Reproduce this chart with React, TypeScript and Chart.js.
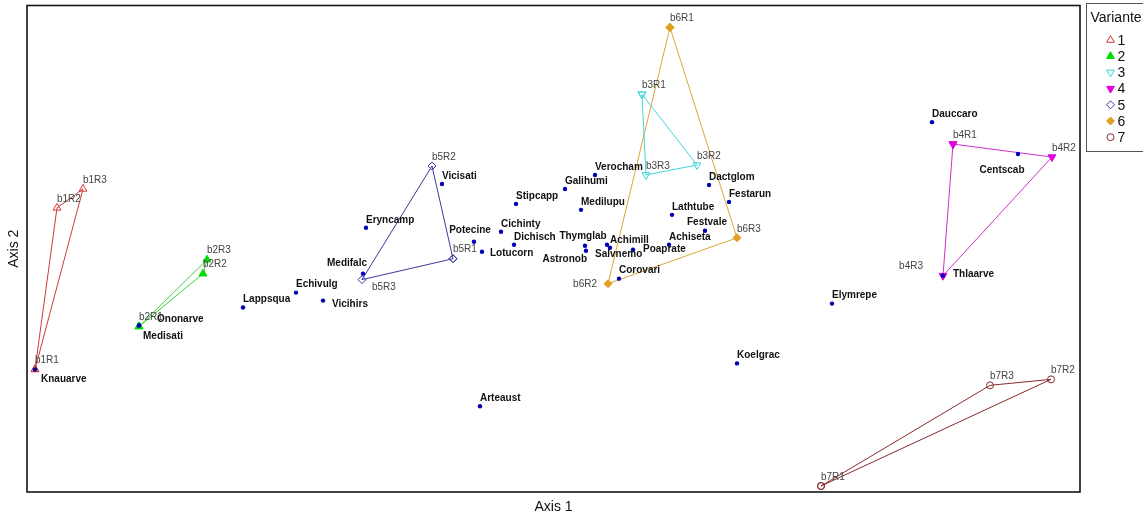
import React, { useEffect, useRef } from 'react';
import { Chart, registerables } from 'chart.js';
import { drawPoint } from 'chart.js/helpers';

Chart.register(...registerables);

// ---- Data (ordination scores, arbitrary units) ----
const speciesNames = [
  'Knauarve', 'Ononarve', 'Medisati', 'Lappsqua', 'Echivulg', 'Vicihirs', 'Medifalc',
  'Eryncamp', 'Vicisati', 'Potecine', 'Lotucorn', 'Cichinty', 'Dichisch', 'Stipcapp',
  'Galihumi', 'Verocham', 'Medilupu', 'Thymglab', 'Astronob', 'Achimill', 'Salvnemo',
  'Poaprate', 'Corovari', 'Achiseta', 'Lathtube', 'Festvale', 'Dactglom', 'Festarun',
  'Arteaust', 'Koelgrac', 'Elymrepe', 'Dauccaro', 'Centscab', 'Thlaarve',
];
const speciesX = [
  8, 112, 112, 216, 269, 296, 336,
  339, 415, 447, 455, 474, 487, 489,
  538, 568, 554, 558, 559, 580, 583,
  606, 592, 642, 645, 678, 682, 702,
  453, 710, 805, 905, 991, 916,
];
const speciesY = [
  123, 167, 167, 185, 200, 192, 219,
  265, 309, 251, 241, 261, 248, 289,
  304, 318, 283, 247, 242, 248, 245,
  243, 214, 248, 278, 262, 308, 291,
  86, 129, 189, 371, 339, 217,
];

const variants = ['1', '2', '3', '4', '5', '6', '7'];
const replicates = ['R1', 'R2', 'R3'];
const variantX = [
  [8, 30, 56],
  [112, 176, 180],
  [615, 670, 619],
  [926, 1025, 916],
  [426, 405, 335],
  [643, 581, 710],
  [794, 1024, 963],
];
const variantY = [
  [123, 285, 304],
  [166, 219, 233],
  [399, 328, 318],
  [349, 336, 217],
  [234, 327, 213],
  [466, 209, 255],
  [6, 113, 107],
];

const axisXTitle = 'Axis 1';
const axisYTitle = 'Axis 2';
const legendTitle = 'Variante';

// ---- Styles ----
const X_MIN = 0, X_MAX = 1053, Y_MIN = 0, Y_MAX = 488;
const FONT = '"Liberation Sans", Arial, Helvetica, sans-serif';
const markerColors = ['#d23a3a', '#00dc00', '#38d4d4', '#e000e0', '#3a3a9c', '#e0a020', '#8a2a2a'];
const lineColors = ['#cc3b3b', '#3cd03c', '#40d8d8', '#cc33cc', '#3a3a9c', '#dba838', '#8a2a2a'];
const markerStyles: any[] = [
  { pointStyle: 'triangle', rotation: 0, filled: false, radius: 4.5 },
  { pointStyle: 'triangle', rotation: 0, filled: true, radius: 4.5 },
  { pointStyle: 'triangle', rotation: 180, filled: false, radius: 4.5 },
  { pointStyle: 'triangle', rotation: 180, filled: true, radius: 4.5 },
  { pointStyle: 'rectRot', rotation: 0, filled: false, radius: 4 },
  { pointStyle: 'rectRot', rotation: 0, filled: true, radius: 4 },
  { pointStyle: 'circle', rotation: 0, filled: false, radius: 3.5 },
];

// label placement relative to the point (pixels): [dx, dy, align]
const speciesLabelPlacement: Record<string, [number, number, CanvasTextAlign]> = {
  Knauarve: [6, 10, 'left'],
  Ononarve: [18, -6, 'left'],
  Medisati: [4, 11, 'left'],
  Vicihirs: [9, 4, 'left'],
  Medifalc: [4, -10, 'right'],
  Potecine: [-4, -12, 'center'],
  Lotucorn: [8, 2, 'left'],
  Thymglab: [-2, -10, 'center'],
  Astronob: [1, 9, 'right'],
  Achimill: [3, -5, 'left'],
  Salvnemo: [-15, 6, 'left'],
  Poaprate: [10, 0, 'left'],
  Festvale: [2, -9, 'center'],
  Centscab: [-16, 16, 'center'],
  Thlaarve: [10, -1, 'left'],
};
const sampleLabelPlacement: Record<string, [number, number, CanvasTextAlign]> = {
  b4R3: [-20, -9, 'right'],
  b5R3: [10, 8, 'left'],
  b6R2: [-11, 1, 'right'],
};

export default function App() {
  const canvasRef = useRef<HTMLCanvasElement | null>(null);

  useEffect(() => {
    document.body.style.margin = '0';
    const canvas = canvasRef.current;
    if (!canvas) return;

    const datasets: any[] = [];
    datasets.push({
      label: 'species',
      data: speciesX.map((x, i) => ({ x, y: speciesY[i] })),
      pointStyle: 'circle',
      pointRadius: 2.2,
      pointBorderWidth: 0,
      pointBackgroundColor: '#0000b4',
      pointBorderColor: '#0000b4',
      showLine: false,
      order: 0,
    });
    variants.forEach((v, g) => {
      const pts = variantX[g].map((x, r) => ({ x, y: variantY[g][r] }));
      const st = markerStyles[g];
      datasets.push({
        label: v,
        data: [...pts, pts[0]],
        showLine: true,
        borderColor: lineColors[g],
        borderWidth: 1,
        fill: false,
        tension: 0,
        pointStyle: st.pointStyle,
        rotation: st.rotation,
        pointRadius: st.radius,
        pointBorderWidth: 1,
        pointBorderColor: markerColors[g],
        pointBackgroundColor: st.filled ? markerColors[g] : 'rgba(255,255,255,0)',
        order: 1,
      });
    });

    const overlay = {
      id: 'overlay',
      beforeDraw(chart: any) {
        const ctx = chart.ctx;
        ctx.save();
        ctx.fillStyle = '#ffffff';
        ctx.fillRect(0, 0, chart.width, chart.height);
        ctx.restore();
      },
      afterDatasetsDraw(chart: any) {
        const ctx = chart.ctx;
        const xs = chart.scales.x;
        const ys = chart.scales.y;
        ctx.save();
        ctx.textBaseline = 'middle';
        // species labels
        ctx.font = `bold 10px ${FONT}`;
        ctx.fillStyle = '#111111';
        speciesNames.forEach((name, i) => {
          const px = xs.getPixelForValue(speciesX[i]);
          const py = ys.getPixelForValue(speciesY[i]);
          const [dx, dy, al] = speciesLabelPlacement[name] || [0, -8, 'left'];
          ctx.textAlign = al;
          ctx.fillText(name, px + dx, py + dy);
        });
        // sample labels
        ctx.font = `10px ${FONT}`;
        ctx.fillStyle = '#444444';
        variants.forEach((v, g) => {
          replicates.forEach((r, k) => {
            const name = `b${v}${r}`;
            const px = xs.getPixelForValue(variantX[g][k]);
            const py = ys.getPixelForValue(variantY[g][k]);
            const [dx, dy, al] = sampleLabelPlacement[name] || [0, -9, 'left'];
            ctx.textAlign = al;
            ctx.fillText(name, px + dx, py + dy);
          });
        });
        ctx.restore();
      },
      afterDraw(chart: any) {
        const ctx = chart.ctx;
        const a = chart.chartArea;
        ctx.save();
        // frame
        ctx.strokeStyle = '#141414';
        ctx.lineWidth = 1.6;
        ctx.strokeRect(a.left, a.top, a.right - a.left, a.bottom - a.top);
        // axis titles
        ctx.fillStyle = '#111111';
        ctx.font = `14px ${FONT}`;
        ctx.textAlign = 'center';
        ctx.textBaseline = 'middle';
        ctx.fillText(axisXTitle, (a.left + a.right) / 2, a.bottom + 15);
        ctx.save();
        ctx.translate(14, (a.top + a.bottom) / 2);
        ctx.rotate(-Math.PI / 2);
        ctx.fillText(axisYTitle, 0, 0);
        ctx.restore();
        // legend
        const lx = a.right + 6.5;
        ctx.strokeStyle = '#555555';
        ctx.lineWidth = 1;
        ctx.strokeRect(lx, 3.5, 80, 148);
        ctx.textAlign = 'left';
        ctx.fillText(legendTitle, lx + 4, 18);
        variants.forEach((v, g) => {
          const y = 40 + 16.2 * g;
          const st = markerStyles[g];
          ctx.save();
          ctx.lineWidth = 1;
          ctx.strokeStyle = markerColors[g];
          ctx.fillStyle = st.filled ? markerColors[g] : 'rgba(255,255,255,0)';
          drawPoint(ctx, { pointStyle: st.pointStyle, radius: st.radius, rotation: st.rotation, borderWidth: 1 }, lx + 24, y);
          ctx.restore();
          ctx.fillStyle = '#111111';
          ctx.fillText(v, lx + 31, y + 1);
        });
        ctx.restore();
      },
    };

    const chart = new Chart(canvas, {
      type: 'scatter',
      data: { datasets },
      options: {
        animation: false,
        responsive: false,
        maintainAspectRatio: false,
        layout: { padding: { left: 27, top: 4, right: 63, bottom: 25 } },
        scales: {
          x: { type: 'linear', min: X_MIN, max: X_MAX, display: false },
          y: { type: 'linear', min: Y_MIN, max: Y_MAX, display: false },
        },
        plugins: { legend: { display: false }, tooltip: { enabled: false } },
        elements: { line: { tension: 0 } },
      },
      plugins: [overlay],
    });
    return () => chart.destroy();
  }, []);

  return (
    <div style={{ position: 'absolute', left: 0, top: 0, width: 1143, height: 517 }}>
      <canvas ref={canvasRef} width={1143} height={517} style={{ width: 1143, height: 517, display: 'block' }} />
    </div>
  );
}
